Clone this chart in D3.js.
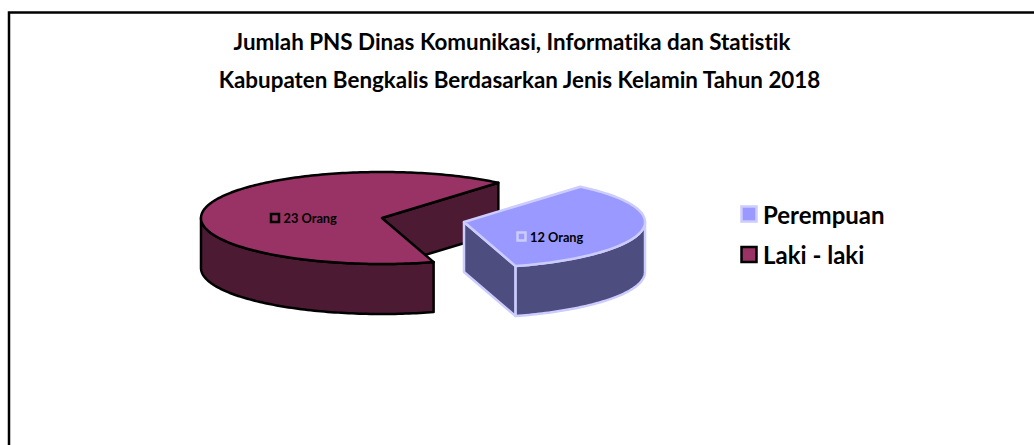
<!DOCTYPE html>
<html><head><meta charset="utf-8">
<script src="https://cdn.jsdelivr.net/npm/d3@7/dist/d3.min.js"></script>
<style>html,body{margin:0;padding:0;background:#fff}svg{display:block}text{font-family:Lato,"Open Sans",sans-serif;font-weight:700;fill:#000;font-variant-ligatures:none}</style>
</head><body><svg id="c" width="1034" height="445"></svg>
<script>
const categories = ["Perempuan", "Laki - laki"];
const values = [12, 23];
const dataLabels = ["12 Orang", "23 Orang"];
const titleLines = ["Jumlah PNS Dinas Komunikasi, Informatika dan Statistik", "Kabupaten Bengkalis Berdasarkan Jenis Kelamin Tahun 2018"];
const topColors = ["#9999ff", "#993366"];
const wallColors = ["#4d4d80", "#4d1a33"];
const strokeColors = ["#ccccff", "#000000"];

const svg = d3.select("#c");
svg.append("path").attr("d","M9 445V12.5H1034").attr("fill","none").attr("stroke","#000").attr("stroke-width",2.5);

svg.selectAll("text.title").data(titleLines).join("text").attr("class","title")
  .attr("x",(d,i)=>[512,519.5][i]).attr("y",(d,i)=>[50,88][i]).attr("text-anchor","middle")
  .attr("font-size",22.4).text(d=>d);

const rx=181, ry=46, depth=50;
const centers=[[464,222],[382,218]];
const start=40*Math.PI/180;
const arcs=d3.pie().sort(null).startAngle(start).endAngle(start+2*Math.PI)(values);
const pt=(c,a,dy=0)=>[c[0]+rx*Math.sin(a), c[1]-ry*Math.cos(a)+dy];
const sweep=(c,a0,a1,dy=0)=>{const n=Math.max(2,Math.ceil(Math.abs(a1-a0)/0.02));return d3.range(n+1).map(i=>pt(c,a0+(a1-a0)*i/n,dy));};
const line=d3.line();

function drawSlice(i){
  const a=arcs[i], c=centers[i], g=svg.append("g")
    .attr("stroke",strokeColors[i]).attr("stroke-width",2.5).attr("stroke-linejoin","round");
  const c2=[c[0],c[1]+depth];
  // visible straight cut face
  g.append("path").attr("fill",wallColors[i]).attr("d",line([c,pt(c,a.endAngle),pt(c,a.endAngle,depth),c2])+"Z");
  // front outer wall
  const w0=Math.max(a.startAngle,Math.PI/2), w1=Math.min(a.endAngle,1.5*Math.PI);
  g.append("path").attr("fill",wallColors[i])
    .attr("d",line([...sweep(c,w0,w1),...sweep(c,w1,w0,depth)])+"Z");
  // top surface
  g.append("path").attr("fill",topColors[i])
    .attr("d",line([c,...sweep(c,a.startAngle,a.endAngle)])+"Z");
}
drawSlice(1); drawSlice(0);

// data labels
const labelPos=[[521.5,236.5],[275,218]];
labelPos.forEach((p,i)=>{
  svg.append("rect").attr("x",p[0]-4).attr("y",p[1]-4).attr("width",8).attr("height",8)
    .attr("fill",topColors[i]).attr("stroke",strokeColors[i]).attr("stroke-width",2.5);
  svg.append("text").attr("x",p[0]+8.5).attr("y",p[1]+5).attr("font-size",12.8).text(dataLabels[i]);
});

// legend
const ly=d3.scalePoint().domain(categories).range([214,254.5]);
categories.forEach((n,i)=>{
  svg.append("rect").attr("x",741.5).attr("y",ly(n)-7.5).attr("width",15).attr("height",15)
    .attr("fill",topColors[i]).attr("stroke",strokeColors[i]).attr("stroke-width",2.5);
  svg.append("text").attr("x",763).attr("y",ly(n)+9.5).attr("font-size",24).text(n);
});
</script></body></html>
